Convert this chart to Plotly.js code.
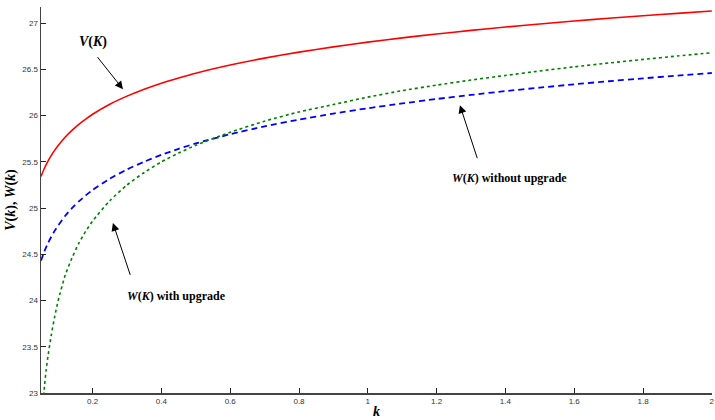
<!DOCTYPE html>
<html>
<head>
<meta charset="utf-8">
<script src="https://cdn.plot.ly/plotly-3.0.1.min.js"></script>
<style>html,body{margin:0;padding:0;background:#fff;}#chart{width:715px;height:420px;}</style>
</head>
<body>
<div id="chart"></div>
<script>
// Values
const kGrid = [0.05, 0.06, 0.07, 0.08, 0.09, 0.1, 0.12, 0.14, 0.16, 0.18, 0.2, 0.25, 0.3, 0.35, 0.4, 0.45, 0.5, 0.6, 0.7, 0.8, 0.9, 1.0, 1.1, 1.2, 1.3, 1.4, 1.5, 1.6, 1.7, 1.8, 1.9, 2.0];
const vValues = [25.342, 25.431, 25.505, 25.570, 25.627, 25.678, 25.767, 25.841, 25.906, 25.963, 26.015, 26.123, 26.211, 26.286, 26.351, 26.407, 26.459, 26.547, 26.622, 26.687, 26.744, 26.795, 26.841, 26.883, 26.922, 26.958, 26.991, 27.023, 27.053, 27.080, 27.106, 27.131];
const wWithoutValues = [24.432, 24.533, 24.618, 24.691, 24.756, 24.813, 24.914, 24.999, 25.072, 25.137, 25.195, 25.318, 25.418, 25.502, 25.576, 25.641, 25.699, 25.799, 25.884, 25.957, 26.022, 26.080, 26.132, 26.180, 26.224, 26.265, 26.303, 26.339, 26.372, 26.403, 26.433, 26.461];
const kGridUpgrade = [0.058, 0.06, 0.065, 0.07, 0.08, 0.09, 0.1, 0.12, 0.14, 0.16, 0.18, 0.2, 0.25, 0.3, 0.35, 0.4, 0.45, 0.5, 0.6, 0.7, 0.8, 0.9, 1.0, 1.1, 1.2, 1.3, 1.4, 1.5, 1.6, 1.7, 1.8, 1.9, 2.0];
const wWithValues = [22.97, 23.07, 23.25, 23.39, 23.63, 23.83, 24.00, 24.27, 24.46, 24.62, 24.75, 24.86, 25.08, 25.25, 25.385, 25.50, 25.595, 25.68, 25.82, 25.94, 26.04, 26.12, 26.20, 26.27, 26.33, 26.385, 26.435, 26.483, 26.528, 26.569, 26.608, 26.645, 26.68];
const xTickVals = [0.2, 0.4, 0.6, 0.8, 1, 1.2, 1.4, 1.6, 1.8, 2];
const xTickText = ['0.2', '0.4', '0.6', '0.8', '1', '1.2', '1.4', '1.6', '1.8', '2'];
const yTickVals = [23, 23.5, 24, 24.5, 25, 25.5, 26, 26.5, 27];
const yTickText = ['23', '23.5', '24', '24.5', '25', '25.5', '26', '26.5', '27'];

const traces = [
  {x: kGrid, y: vValues, mode: 'lines', line: {color: '#ff0000', width: 1.6, shape: 'spline', smoothing: 0.6}, name: 'V(K)'},
  {x: kGrid, y: wWithoutValues, mode: 'lines', line: {color: '#0000ff', width: 1.8, dash: '6px,4px', shape: 'spline', smoothing: 0.6}, name: 'W(K) without upgrade'},
  {x: kGridUpgrade, y: wWithValues, mode: 'lines', line: {color: '#008000', width: 1.6, dash: 'dot', shape: 'spline', smoothing: 0.6}, name: 'W(K) with upgrade'}
];

const serif = 'Liberation Serif, DejaVu Serif, serif';
const arrowBase = {showarrow: true, arrowhead: 2, arrowsize: 1.6, arrowwidth: 1, arrowcolor: '#000', standoff: 0, startstandoff: 0, text: ' ', font: {size: 1}, axref: 'pixel', ayref: 'pixel'};
const layout = {
  width: 715, height: 420,
  margin: {l: 41, r: 3, t: 7, b: 27, pad: 0},
  paper_bgcolor: '#fff', plot_bgcolor: '#fff',
  showlegend: false,
  font: {family: 'Liberation Sans, Arial, sans-serif', size: 8, color: '#333'},
  xaxis: {
    range: [0.05, 2.0005], tickvals: xTickVals, ticktext: xTickText,
    showgrid: false, zeroline: false, showline: true, linecolor: '#444', linewidth: 1.5,
    ticks: 'inside', ticklen: 5, tickcolor: '#222', tickwidth: 1,
    tickfont: {size: 8, color: '#333'},
    title: {text: '<b><i>k</i></b>', font: {family: serif, size: 14, color: '#000'}, standoff: 1}
  },
  yaxis: {
    range: [23, 27.175], tickvals: yTickVals, ticktext: yTickText,
    showgrid: false, zeroline: false, showline: true, linecolor: '#444', linewidth: 1.5,
    ticks: 'inside', ticklen: 5, tickcolor: '#222', tickwidth: 1,
    tickfont: {size: 8, color: '#333'},
    title: {text: '<b><i>V</i>(<i>k</i>), <i>W</i>(<i>k</i>)</b>', font: {family: serif, size: 14, color: '#000'}, standoff: 3}
  },
  annotations: [
    Object.assign({}, arrowBase, {xref: 'x', yref: 'y', x: 0.2883, y: 26.286, ax: -27, ay: -34}),
    Object.assign({}, arrowBase, {xref: 'x', yref: 'y', x: 1.2677, y: 26.113, ax: 18, ay: 55}),
    Object.assign({}, arrowBase, {xref: 'x', yref: 'y', x: 0.259, y: 24.84, ax: 18, ay: 54}),
    {xref: 'x', yref: 'y', x: 0.1997, y: 26.794, showarrow: false, text: '<b><i>V</i>(<i>K</i>)</b>', font: {family: serif, size: 14, color: '#000'}},
    {xref: 'x', yref: 'y', x: 1.413, y: 25.325, showarrow: false, text: '<b><i>W</i>(<i>K</i>) without upgrade</b>', font: {family: serif, size: 12, color: '#000'}},
    {xref: 'x', yref: 'y', x: 0.445, y: 24.05, showarrow: false, text: '<b><i>W</i>(<i>K</i>) with upgrade</b>', font: {family: serif, size: 12, color: '#000'}}
  ]
};
Plotly.newPlot('chart', traces, layout, {displayModeBar: false, staticPlot: true});
</script>
</body>
</html>
